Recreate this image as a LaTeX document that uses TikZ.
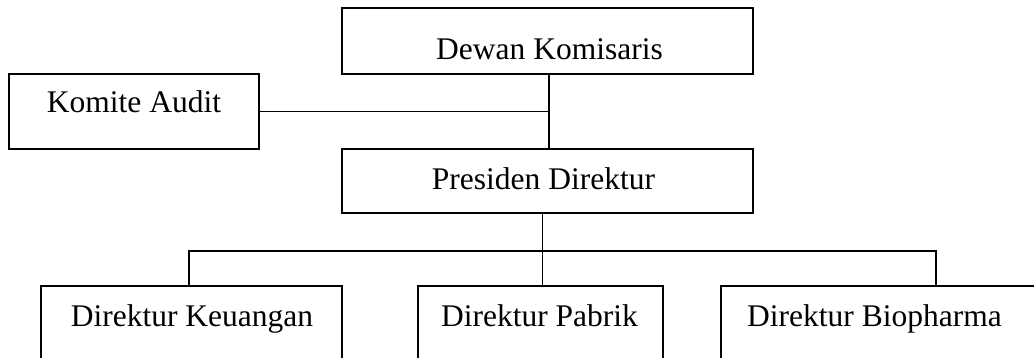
\documentclass[tikz,border=0pt]{standalone}
\usepackage{fontspec}
\setmainfont{Liberation Serif}
\begin{document}
\begin{tikzpicture}[x=1pt,y=1pt,
  box/.style={draw=black, line width=1.7pt, rectangle, inner sep=0pt},
  txt/.style={anchor=base, inner sep=0pt, font=\fontsize{31.5}{36}\selectfont},
  link/.style={draw=black, line width=1.5pt}]
\useasboundingbox (0,0) rectangle (1034,358);
\clip (0,0) rectangle (1034,358);
% boxes
\node[box, minimum width=411pt, minimum height=66pt] (dk) at (547.5,317) {};
\node[box, minimum width=411pt, minimum height=64pt] (pd) at (547.5,177) {};
\node[box, minimum width=250pt, minimum height=75pt] (ka) at (134,246.5) {};
\node[box, minimum width=301pt, minimum height=92pt] (keu) at (191.5,26) {};
\node[box, minimum width=245pt, minimum height=92pt] (fab) at (540.5,26) {};
\node[box, minimum width=323pt, minimum height=92pt] (bio) at (882.5,26) {};
% labels
\node[txt] (tdk) at (549.5,298) {Dewan Komisaris};
\node[txt] (tpd) at (543.5,168) {Presiden Direktur};
\node[txt] (tka) at (134,245) {Komite Audit};
\node[txt] (tkeu) at (192,31) {Direktur Keuangan};
\node[txt] (tfab) at (539.5,31) {Direktur Pabrik};
\node[txt] (tbio) at (874.5,31) {Direktur Biopharma};
% connectors
\coordinate (top) at (549,247);
\coordinate (mid) at (542.5,107);
\coordinate (bl) at (189,107);
\coordinate (br) at (936,107);
\draw[link] (dk.south -| top) -- (pd.north -| top);
\draw[link] (ka.east) -- (ka.east -| top);
\draw[link] (pd.south -| mid) -- (fab.north -| mid);
\draw[link] (keu.north -| bl) -- (bl) -- (br) -- (bio.north -| br);
\end{tikzpicture}
\end{document}
